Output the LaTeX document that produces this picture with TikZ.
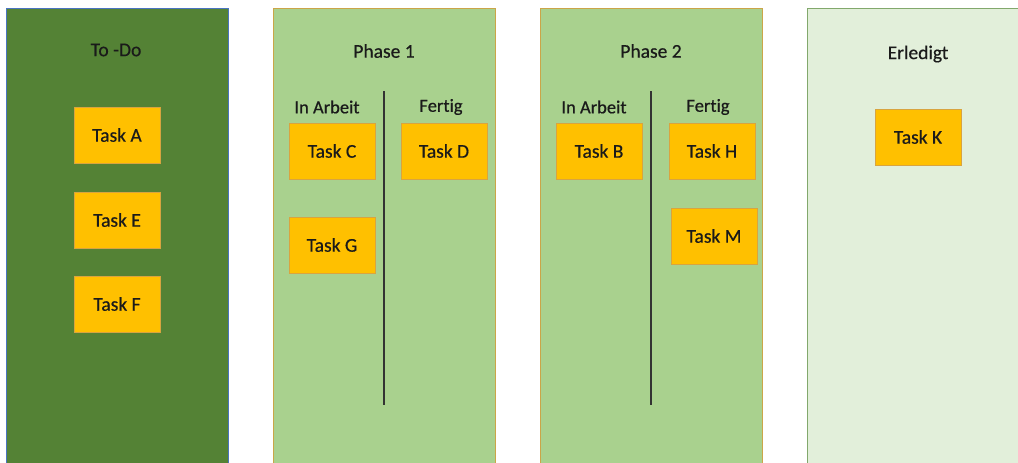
\documentclass[tikz,border=0pt]{standalone}
\usepackage{fontspec}
\setmainfont{Carlito}[Ligatures=NoCommon, RawFeature={embolden=0.5}]
\definecolor{todofill}{HTML}{548235}
\definecolor{todoline}{HTML}{4A74C0}
\definecolor{phasefill}{HTML}{A9D18E}
\definecolor{phaseline}{HTML}{CBA548}
\definecolor{donefill}{HTML}{E2EFDA}
\definecolor{doneline}{HTML}{82A86C}
\definecolor{taskfill}{HTML}{FFC000}
\definecolor{taskline}{HTML}{D8A440}
\definecolor{ink}{HTML}{1A1A1A}
\definecolor{divider}{HTML}{333333}
\tikzset{
  column/.style={rectangle, anchor=north west, inner sep=0pt, line width=1pt,
    minimum width=222pt, minimum height=480pt},
  title/.style={text=ink, font=\fontsize{19.5}{22}\selectfont, inner sep=0pt},
  sublabel/.style={text=ink, font=\fontsize{18.5}{22}\selectfont, inner sep=0pt},
  task/.style={rectangle, fill=taskfill, draw=taskline, line width=0.8pt,
    minimum width=86pt, minimum height=56pt, inner sep=0pt,
    text=ink, font=\fontsize{19.5}{22}\selectfont},
  divline/.style={draw=divider, line width=1.6pt}
}
\begin{document}
\begin{tikzpicture}[x=1pt, y=-1pt]
\useasboundingbox (0,0) rectangle (1018,463);
\clip (0,0) rectangle (1018,463);
\fill[white] (0,0) rectangle (1018,463);

% board columns
\node[column, fill=todofill, draw=todoline] (todo) at (6,8) {};
\node[column, fill=phasefill, draw=phaseline] (p1) at (273,8) {};
\node[column, fill=phasefill, draw=phaseline] (p2) at (540,8) {};
\node[column, fill=donefill, draw=doneline] (done) at (807,8) {};

% column titles
\node[title] (ttodo) at (116,50) {To -Do};
\node[title] (tp1) at (384,51) {Phase 1};
\node[title] (tp2) at (651,51) {Phase 2};
\node[title] (tdone) at (918,54) {Erledigt};

% sub-columns of the phases
\node[sublabel] (p1a) at (327,107) {In Arbeit};
\node[sublabel] (p1f) at (441,107) {Fertig};
\node[sublabel] (p2a) at (594,107) {In Arbeit};
\node[sublabel] (p2f) at (708,107) {Fertig};

\coordinate (d1t) at (384,91);
\coordinate (d1b) at (384,405);
\coordinate (d2t) at (651,91);
\coordinate (d2b) at (651,405);
\draw[divline] (d1t) -- (d1b);
\draw[divline] (d2t) -- (d2b);

% task cards
\node[task] (ta) at (117,135) {Task A};
\node[task] (te) at (117,220) {Task E};
\node[task] (tf) at (117,304) {Task F};
\node[task] (tc) at (332,151) {Task C};
\node[task] (td) at (444,151) {Task D};
\node[task] (tg) at (332,245) {Task G};
\node[task] (tb) at (599,151) {Task B};
\node[task] (th) at (712,151) {Task H};
\node[task] (tm) at (714,236) {Task M};
\node[task] (tk) at (918,137) {Task K};
\end{tikzpicture}
\end{document}
